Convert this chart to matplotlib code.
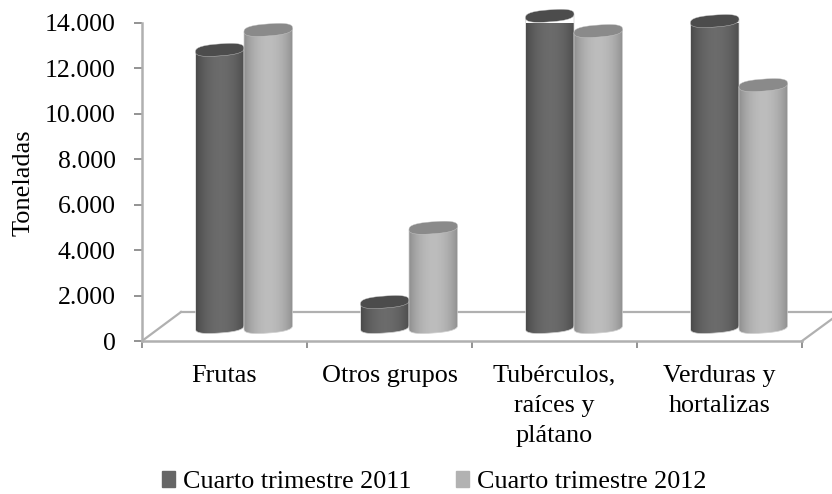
import numpy as np
import matplotlib
matplotlib.use("Agg")
import matplotlib.pyplot as plt
from matplotlib.patches import Patch, PathPatch
from matplotlib.path import Path

categories = ["Frutas", "Otros grupos", "Tubérculos,\nraíces y\nplátano", "Verduras y\nhortalizas"]
series_names = ["Cuarto trimestre 2011", "Cuarto trimestre 2012"]
values_2011 = [12200, 1100, 13700, 13470]
values_2012 = [13080, 4370, 13030, 10650]
yticks = [0, 2000, 4000, 6000, 8000, 10000, 12000, 14000]
ytick_labels = ["0", "2.000", "4.000", "6.000", "8.000", "10.000", "12.000", "14.000"]

W, H = 832, 494
LEFT, RIGHT, TOP, BOTTOM = 142, 802, 23, 341
AXIS = "#b0b0b0"

plt.rcParams["font.family"] = ["Liberation Serif", "DejaVu Serif"]

fig = plt.figure(figsize=(W / 100, H / 100), dpi=100)
ax = fig.add_axes([LEFT / W, 1 - BOTTOM / H, (RIGHT - LEFT) / W, (BOTTOM - TOP) / H])

# px -> data scale
ux = len(categories) / (RIGHT - LEFT)
uy = 14000 / (BOTTOM - TOP)

bar_w = 48.5 * ux
shift = 19.5 * ux
base_y = 14 * uy
ry = 6 * uy
tilt = 1.8 * uy


def shade(edge, mid):
    # horizontal shading across a cylinder
    t = np.sin(np.linspace(0.05, np.pi - 0.05, 64)) ** 0.7
    e, m = np.array(edge), np.array(mid)
    return (e + (m - e) * t[:, None])[None, :, :]


def rim(t):
    # slightly squared-off ellipse, the ends are blunt in the original
    c, s = np.cos(t), np.sin(t)
    return np.sign(c) * np.abs(c) ** 0.75, np.sign(s) * np.abs(s) ** 0.75


def cylinder(xc, val, edge, mid, top_col, z):
    a = bar_w / 2
    # body: top edge straight through the ellipse centre, round bottom
    cx, sy = rim(np.linspace(np.pi, 2 * np.pi, 40))
    bx = xc + a * cx
    by = base_y + ry * sy + tilt * cx
    tx = xc + a * cx[::-1]
    ty = base_y + val + tilt * cx[::-1]
    pts = np.column_stack([np.r_[bx, tx], np.r_[by, ty]])
    outline = Path(np.vstack([pts, pts[0]]), closed=True)
    im = ax.imshow(shade(edge, mid), extent=[xc - a, xc + a, base_y - ry - tilt, base_y + val + tilt],
                   aspect="auto", interpolation="bilinear", zorder=z, clip_on=True)
    p = PathPatch(outline, transform=ax.transData, fc="none", ec="none")
    ax.add_patch(p)
    im.set_clip_path(p)
    ax.add_patch(PathPatch(outline, fc="none", ec="#d0d0d0", lw=0.5, zorder=z, clip_on=False))
    cx, sy = rim(np.linspace(0, 2 * np.pi, 120))
    ex = xc + a * cx
    ey = base_y + val + ry * sy + tilt * cx
    ax.fill(ex, ey, color=top_col, ec="#c8c8c8", lw=0.3, zorder=z + 0.1, clip_on=False)


x = np.arange(len(categories))
for i in x:
    xc = i + 0.5 + shift
    cylinder(xc - bar_w / 2, values_2011[i], (0.27, 0.27, 0.27), (0.42, 0.42, 0.42), "#4c4c4c", 5)
    cylinder(xc + bar_w / 2, values_2012[i], (0.53, 0.53, 0.53), (0.74, 0.74, 0.74), "#8a8a8a", 6)

# floor of the 3D box
depth_x, depth_y = 39 * ux, 29 * uy
ax.plot([0, depth_x], [0, depth_y], color=AXIS, lw=1.6, clip_on=False, zorder=2)
ax.plot([depth_x, len(categories) + 30 * ux], [depth_y, depth_y], color=AXIS, lw=1.6, clip_on=False, zorder=2)
ax.plot([len(categories), len(categories) + 30 * ux], [0, 22 * uy], color=AXIS, lw=1.6, clip_on=False, zorder=2)

ax.set_xlim(0, len(categories))
ax.set_ylim(0, 14000)
ax.patch.set_alpha(0)
for s in ["top", "right"]:
    ax.spines[s].set_visible(False)
for s in ["left", "bottom"]:
    ax.spines[s].set_color(AXIS)
    ax.spines[s].set_linewidth(1.8)

ax.set_yticks(yticks)
ax.set_yticklabels(ytick_labels, fontsize=18.5)
ax.set_xticks(np.arange(len(categories) + 1))
ax.set_xticklabels([])
ax.set_xticks(x + 0.5, minor=True)
ax.set_xticklabels(categories, minor=True, fontsize=18.8, linespacing=1.47)
ax.tick_params(axis="x", which="minor", length=0, pad=17)
ax.tick_params(axis="x", which="major", length=5, width=1.2, color="#808080")
ax.tick_params(axis="y", length=6, width=1.2, color="#808080", pad=13)

fig.text(24 / W, 1 - 183 / H, "Toneladas", rotation=90, fontsize=19, va="center", ha="center")

handles = [Patch(color="#666666"), Patch(color="#b2b2b2")]
fig.legend(handles, series_names, loc="center", bbox_to_anchor=(434 / W, 1 - 482 / H), ncol=2, frameon=False,
           fontsize=18.8, handlelength=0.5, handleheight=0.55, handletextpad=0.3, columnspacing=1.7,
           borderpad=0, borderaxespad=0)

fig.savefig("out.png", dpi=100)
